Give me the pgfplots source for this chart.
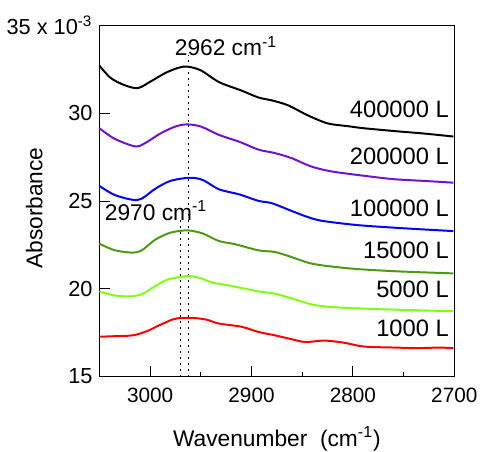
\documentclass[border=0pt]{standalone}
\usepackage{fontspec}
\setmainfont{Liberation Sans}
\usepackage{pgfplots}
\pgfplotsset{compat=1.18}
\definecolor{c400}{HTML}{000000}
\definecolor{c200}{HTML}{7010D0}
\definecolor{c100}{HTML}{0000FF}
\definecolor{c15}{HTML}{4C9A10}
\definecolor{c5}{HTML}{80FF10}
\definecolor{c1}{HTML}{FF0000}

\begin{document}
\begin{tikzpicture}
\begin{axis}[
  scale only axis,
  width=179.5pt,height=177.5pt,
  x dir=reverse,
  xmin=2700,xmax=3050,ymin=15,ymax=35,
  xtick={3000,2900,2800,2700},
  minor xtick={2950,2850,2750},
  ytick={15,20,25,30,35},
  yticklabels={15,20,25,30,{35 x 10\textsuperscript{-3}}},
  xtick pos=left,ytick pos=left,
  tick align=inside,
  major tick length=5.5pt,minor tick length=2.5pt,
  tick style={black,line width=0.5pt},
  axis line style={line width=0.5pt},
  /pgf/number format/assume math mode=true,
  /pgf/number format/1000 sep={},
  x tick label style={font=\fontsize{10.5}{12}\selectfont,yshift=-2.5pt},
  y tick label style={font=\fontsize{11}{12}\selectfont},
  xlabel={Wavenumber\ \ (cm\textsuperscript{-1})},
  ylabel={Absorbance},
  label style={font=\fontsize{11.5}{13}\selectfont},
  xlabel style={at={(axis description cs:0.5,-0.199)},anchor=base,inner sep=0pt},
  ylabel style={at={(axis description cs:-0.184,0.48)},anchor=center,inner sep=0pt},
  every axis plot/.append style={line width=1pt,smooth,no markers},
  clip=false,
]
\path (axis description cs:-0.276,-0.214) rectangle (axis description cs:1.072,1.073);

% dotted guide lines
\addplot[black,dotted,line width=0.6pt,sharp plot] coordinates {(2962,15) (2962,33.3)};
\addplot[black,dotted,line width=0.6pt,sharp plot] coordinates {(2970,15) (2970,23.95)};

% 400000 L
\addplot[c400] coordinates {
 (3050,32.72) (3039,32.02) (3025,31.6) (3012,31.44) (3000,31.8) (2985,32.3) (2972,32.6) (2963,32.66)
 (2950,32.45) (2932,31.78) (2910,31.3) (2893,30.9) (2880,30.74) (2864,30.46) (2845,29.9)
 (2825,29.43) (2805,29.27) (2789,29.15) (2757,28.98) (2730,28.85) (2701,28.68)};
% 200000 L
\addplot[c200] coordinates {
 (3050,29.15) (3035,28.55) (3015,28.12) (3005,28.3) (2990,28.85) (2975,29.25) (2964,29.37)
 (2950,29.25) (2932,28.77) (2912,28.38) (2893,27.93) (2878,27.75) (2861,27.46) (2842,26.99)
 (2822,26.7) (2790,26.45) (2760,26.25) (2730,26.15) (2701,26.05)};
% 100000 L
\addplot[c100] coordinates {
 (3050,25.86) (3035,25.35) (3017,25.07) (3008,25.15) (2995,25.7) (2980,26.15) (2961,26.33)
 (2948,26.2) (2932,25.67) (2912,25.38) (2893,25.01) (2880,24.88) (2861,24.45) (2845,24.1)
 (2832,23.89) (2810,23.72) (2789,23.6) (2750,23.45) (2701,23.29)};
% 15000 L
\addplot[c15] coordinates {
 (3050,22.57) (3035,22.2) (3017,22.06) (3008,22.2) (2995,22.8) (2980,23.2) (2963,23.33)
 (2948,23.15) (2932,22.72) (2916,22.54) (2893,22.19) (2877,22.1) (2861,21.82) (2845,21.5)
 (2832,21.35) (2810,21.2) (2789,21.1) (2750,20.98) (2701,20.88)};
% 5000 L
\addplot[c5] coordinates {
 (3050,19.85) (3035,19.62) (3020,19.57) (3008,19.7) (2995,20.15) (2984,20.5) (2970,20.68) (2961,20.73)
 (2950,20.6) (2939,20.36) (2925,20.22) (2910,20.05) (2893,19.85) (2877,19.72) (2860,19.45)
 (2840,19.1) (2820,18.96) (2789,18.87) (2750,18.8) (2701,18.72)};
% 1000 L
\addplot[c1] coordinates {
 (3050,17.27) (3035,17.3) (3017,17.35) (3003,17.59) (2990,17.95) (2978,18.25) (2971,18.34) (2958,18.34)
 (2945,18.25) (2932,18.02) (2910,17.84) (2893,17.54) (2877,17.35) (2862,17.15) (2847,16.97)
 (2828,17.05) (2809,16.93) (2789,16.71) (2757,16.65) (2738,16.62) (2715,16.65) (2701,16.62)};

\begin{scope}[every node/.style={font=\fontsize{12}{14}\selectfont,anchor=base east,inner sep=0pt}]
\node at (axis cs:2705,29.77) {400000 L};
\node at (axis cs:2705,27.08) {200000 L};
\node at (axis cs:2705,24.11) {100000 L};
\node at (axis cs:2705,21.73) {15000 L};
\node at (axis cs:2705,19.53) {5000 L};
\node at (axis cs:2705,17.27) {1000 L};
\end{scope}
\node[font=\fontsize{11.5}{13}\selectfont,anchor=base west,inner sep=0pt] at (axis cs:2976,33.28) {2962 cm\textsuperscript{-1}};
\node[font=\fontsize{11.5}{13}\selectfont,anchor=base west,inner sep=0pt] at (axis cs:3045,23.89) {2970 cm\textsuperscript{-1}};
\end{axis}
\end{tikzpicture}
\end{document}
